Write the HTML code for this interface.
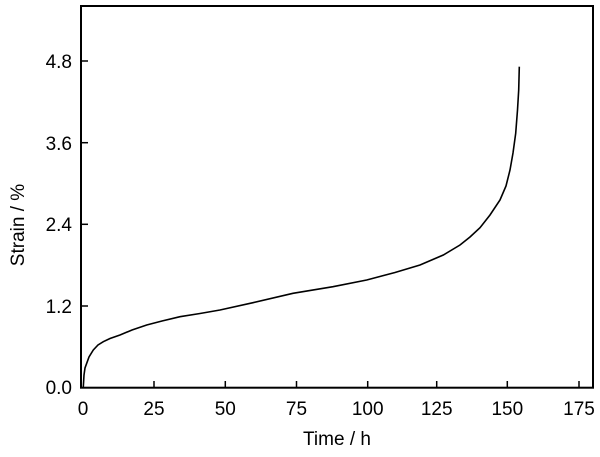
<!DOCTYPE html>
<html><head><style>body{margin:0;background:#fff}</style></head><body>
<svg width="600" height="452" xmlns="http://www.w3.org/2000/svg" font-family="Liberation Sans, sans-serif" font-size="19" fill="#000">
<rect x="81" y="6" width="512" height="381.7" fill="none" stroke="#000" stroke-width="2"/>
<g stroke="#000" stroke-width="1.5">
<line x1="82" y1="61" x2="88" y2="61"/><line x1="82" y1="142.7" x2="88" y2="142.7"/><line x1="82" y1="224.3" x2="88" y2="224.3"/><line x1="82" y1="306" x2="88" y2="306"/>
<line x1="154" y1="387" x2="154" y2="381"/><line x1="225.3" y1="387" x2="225.3" y2="381"/><line x1="296.5" y1="387" x2="296.5" y2="381"/><line x1="367.7" y1="387" x2="367.7" y2="381"/><line x1="436.7" y1="387" x2="436.7" y2="381"/><line x1="507.3" y1="387" x2="507.3" y2="381"/><line x1="579" y1="387" x2="579" y2="381"/>
</g>
<g text-anchor="end">
<text x="72" y="68">4.8</text><text x="72" y="150">3.6</text><text x="72" y="231">2.4</text><text x="72" y="313">1.2</text><text x="72" y="394">0.0</text>
</g>
<g text-anchor="middle">
<text x="83" y="415">0</text><text x="154" y="415">25</text><text x="225.3" y="415">50</text><text x="296.5" y="415">75</text><text x="367.7" y="415">100</text><text x="436.7" y="415">125</text><text x="507.3" y="415">150</text><text x="579" y="415">175</text>
<text x="337" y="445">Time / h</text>
<text transform="translate(24,225) rotate(-90)">Strain / %</text>
</g>
<path d="M83.3,387 L84,375 L85,368 L86.7,363.3 L89,357 L93.3,350 L98,345 L103.3,341.7 L110,338.5 L120,335 L132,330 L146.7,325 L162,321 L180,316.7 L200,313.5 L220,310 L253,302.7 L293,293.3 L333,286.7 L366.7,280 L395,272.5 L420,265 L443.3,255 L460,245 L470,237 L480,227.7 L490,215 L500,200 L506,186 L510,170 L513,153 L515.7,133.3 L517.5,110 L518.7,90 L519.3,66.7" fill="none" stroke="#000" stroke-width="1.6"/>
</svg>
</body></html>
